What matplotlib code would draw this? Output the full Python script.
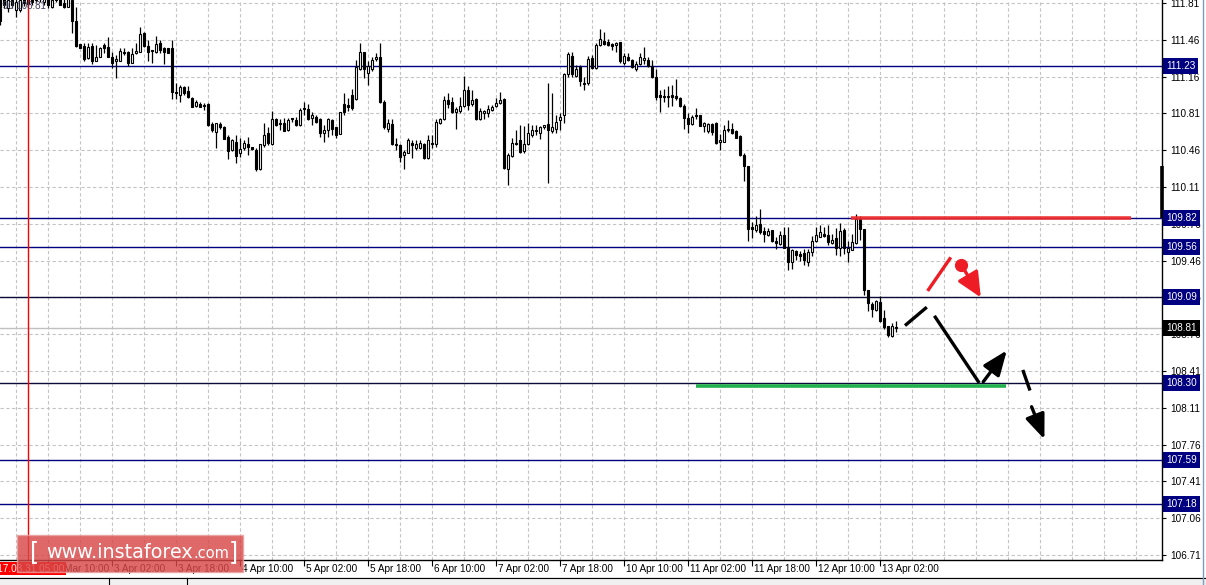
import matplotlib
matplotlib.use("Agg")
import matplotlib.pyplot as plt
import numpy as np
from matplotlib.patches import Rectangle, FancyArrowPatch
from matplotlib.lines import Line2D
from matplotlib.transforms import blended_transform_factory

# ---------------- data (USDJPY H1, bar 0 = 2017.03.31 10:00) ----------------
first_bar = -12

opens = [
    111.88, 111.88, 111.76, 111.84, 111.75, 111.75, 111.87, 111.80, 111.88, 111.84,
    111.89, 111.82, 111.87, 111.77, 111.84, 111.88, 111.81, 111.77, 111.84, 111.64,
    111.43, 111.41, 111.30, 111.41, 111.27, 111.31, 111.42, 111.40, 111.31, 111.27,
    111.27, 111.36, 111.36, 111.26, 111.35, 111.36, 111.53, 111.41, 111.38, 111.36,
    111.44, 111.39, 111.39, 111.39, 110.99, 110.96, 111.03, 111.00, 110.93, 110.86,
    110.88, 110.87, 110.88, 110.69, 110.62, 110.69, 110.66, 110.57, 110.45, 110.53,
    110.42, 110.47, 110.51, 110.48, 110.45, 110.28, 110.50, 110.61, 110.51, 110.74,
    110.70, 110.70, 110.64, 110.75, 110.73, 110.68, 110.84, 110.83, 110.75, 110.76,
    110.74, 110.61, 110.64, 110.73, 110.66, 110.60, 110.88, 110.87, 110.96, 110.92,
    111.20, 111.36, 111.16, 111.20, 111.29, 111.31, 110.90, 110.65, 110.69, 110.50,
    110.50, 110.41, 110.42, 110.52, 110.47, 110.47, 110.51, 110.38, 110.52, 110.51,
    110.70, 110.74, 110.91, 110.90, 110.80, 110.81, 110.86, 111.01, 110.88, 110.92,
    110.74, 110.79, 110.79, 110.82, 110.86, 110.89, 110.92, 110.28, 110.40, 110.52,
    110.54, 110.44, 110.51, 110.59, 110.64, 110.61, 110.66, 110.69, 110.63, 110.65,
    110.73, 110.78, 111.15, 111.32, 111.14, 111.22, 111.07, 111.07, 111.30, 111.21,
    111.42, 111.46, 111.45, 111.43, 111.42, 111.45, 111.26, 111.31, 111.28, 111.20,
    111.25, 111.28, 111.28, 111.23, 111.13, 110.96, 110.95, 110.95, 110.96, 110.95,
    110.93, 110.86, 110.75, 110.69, 110.78, 110.78, 110.67, 110.63, 110.69, 110.70,
    110.53, 110.53, 110.64, 110.65, 110.63, 110.58, 110.41, 110.30, 109.74, 109.71,
    109.77, 109.70, 109.67, 109.71, 109.61, 109.58, 109.67, 109.56, 109.42, 109.52,
    109.49, 109.50, 109.42, 109.51, 109.61, 109.65, 109.68, 109.67, 109.59, 109.64,
    109.55, 109.71, 109.51, 109.53, 109.59, 109.81, 109.72, 109.16, 109.03, 108.97,
    109.05, 108.90, 108.83, 108.73, 108.82,
]
highs = [
    111.93, 111.93, 111.88, 111.88, 111.86, 111.88, 111.91, 111.89, 111.93, 111.95,
    111.95, 111.93, 111.91, 111.88, 111.93, 111.91, 111.86, 111.88, 111.88, 111.77,
    111.43, 111.44, 111.44, 111.44, 111.42, 111.40, 111.44, 111.50, 111.36, 111.33,
    111.39, 111.39, 111.37, 111.39, 111.44, 111.59, 111.54, 111.47, 111.38, 111.51,
    111.47, 111.40, 111.39, 111.47, 111.07, 111.05, 111.04, 111.04, 110.94, 110.91,
    110.90, 110.89, 110.89, 110.71, 110.70, 110.71, 110.67, 110.59, 110.55, 110.59,
    110.56, 110.54, 110.57, 110.48, 110.47, 110.51, 110.70, 110.66, 110.81, 110.75,
    110.74, 110.75, 110.75, 110.75, 110.76, 110.84, 110.90, 110.88, 110.80, 110.78,
    110.75, 110.68, 110.75, 110.74, 110.66, 110.80, 110.98, 110.93, 111.02, 111.28,
    111.44, 111.36, 111.27, 111.31, 111.35, 111.44, 110.91, 110.74, 110.74, 110.56,
    110.51, 110.45, 110.56, 110.54, 110.54, 110.54, 110.52, 110.59, 110.59, 110.74,
    110.75, 110.95, 110.98, 110.94, 110.85, 110.94, 111.14, 111.04, 111.01, 110.93,
    110.84, 110.82, 110.87, 110.87, 110.93, 110.99, 110.93, 110.42, 110.56, 110.64,
    110.68, 110.67, 110.70, 110.68, 110.68, 110.67, 110.68, 111.07, 110.98, 110.78,
    110.79, 111.16, 111.36, 111.36, 111.24, 111.24, 111.13, 111.32, 111.33, 111.44,
    111.57, 111.54, 111.48, 111.44, 111.45, 111.45, 111.35, 111.35, 111.29, 111.27,
    111.35, 111.40, 111.31, 111.28, 111.20, 111.01, 111.02, 111.04, 111.05, 111.11,
    110.94, 110.88, 110.79, 110.78, 110.84, 110.78, 110.71, 110.70, 110.70, 110.71,
    110.60, 110.68, 110.73, 110.70, 110.64, 110.59, 110.42, 110.30, 109.79, 109.84,
    109.91, 109.74, 109.73, 109.71, 109.65, 109.70, 109.74, 109.74, 109.54, 109.53,
    109.52, 109.54, 109.54, 109.66, 109.74, 109.76, 109.74, 109.76, 109.68, 109.73,
    109.78, 109.73, 109.61, 109.68, 109.86, 109.84, 109.72, 109.16, 109.05, 109.07,
    109.10, 108.97, 108.83, 108.85, 108.87,
]
lows = [
    111.61, 111.76, 111.73, 111.76, 111.68, 111.73, 111.78, 111.78, 111.79, 111.82,
    111.82, 111.79, 111.76, 111.76, 111.82, 111.79, 111.76, 111.77, 111.53, 111.40,
    111.39, 111.27, 111.29, 111.25, 111.27, 111.31, 111.35, 111.31, 111.21, 111.12,
    111.27, 111.33, 111.23, 111.26, 111.34, 111.36, 111.40, 111.27, 111.26, 111.35,
    111.35, 111.25, 111.35, 110.92, 110.92, 110.90, 110.96, 110.93, 110.85, 110.85,
    110.85, 110.82, 110.67, 110.62, 110.47, 110.65, 110.55, 110.37, 110.44, 110.33,
    110.39, 110.45, 110.41, 110.45, 110.26, 110.27, 110.48, 110.50, 110.50, 110.67,
    110.64, 110.63, 110.63, 110.71, 110.67, 110.67, 110.78, 110.73, 110.68, 110.70,
    110.575, 110.53, 110.575, 110.59, 110.56, 110.60, 110.78, 110.81, 110.82, 110.91,
    111.19, 111.12, 111.05, 111.18, 111.27, 110.89, 110.65, 110.62, 110.50, 110.45,
    110.34, 110.28, 110.42, 110.38, 110.45, 110.46, 110.37, 110.37, 110.47, 110.48,
    110.69, 110.73, 110.84, 110.79, 110.65, 110.79, 110.85, 110.82, 110.86, 110.73,
    110.73, 110.74, 110.76, 110.81, 110.85, 110.88, 110.28, 110.13, 110.39, 110.50,
    110.42, 110.42, 110.50, 110.57, 110.59, 110.55, 110.65, 110.15, 110.61, 110.61,
    110.64, 110.70, 111.13, 111.13, 111.13, 111.04, 111.01, 111.05, 111.20, 111.20,
    111.41, 111.42, 111.41, 111.38, 111.36, 111.26, 111.24, 111.27, 111.21, 111.18,
    111.24, 111.25, 111.22, 111.12, 110.91, 110.80, 110.90, 110.85, 110.86, 110.91,
    110.85, 110.65, 110.61, 110.68, 110.74, 110.67, 110.62, 110.61, 110.59, 110.51,
    110.45, 110.53, 110.62, 110.60, 110.56, 110.40, 110.17, 109.61, 109.64, 109.69,
    109.68, 109.60, 109.66, 109.60, 109.54, 109.57, 109.56, 109.34, 109.35, 109.44,
    109.43, 109.39, 109.38, 109.47, 109.60, 109.65, 109.65, 109.57, 109.58, 109.48,
    109.47, 109.49, 109.42, 109.53, 109.58, 109.62, 109.11, 108.96, 108.91, 108.96,
    108.86, 108.80, 108.72, 108.72, 108.77,
]
closes = [
    111.64, 111.79, 111.84, 111.79, 111.82, 111.84, 111.81, 111.86, 111.82, 111.91,
    111.86, 111.88, 111.79, 111.84, 111.88, 111.79, 111.77, 111.86, 111.64, 111.41,
    111.39, 111.29, 111.40, 111.27, 111.31, 111.39, 111.39, 111.31, 111.26, 111.29,
    111.37, 111.35, 111.26, 111.34, 111.37, 111.52, 111.41, 111.36, 111.37, 111.43,
    111.38, 111.36, 111.35, 110.99, 110.98, 111.03, 110.98, 110.94, 110.85, 110.90,
    110.85, 110.86, 110.68, 110.64, 110.70, 110.66, 110.55, 110.44, 110.54, 110.40,
    110.46, 110.52, 110.48, 110.46, 110.28, 110.51, 110.59, 110.52, 110.74, 110.68,
    110.69, 110.63, 110.73, 110.74, 110.68, 110.82, 110.83, 110.74, 110.78, 110.71,
    110.61, 110.64, 110.74, 110.65, 110.59, 110.80, 110.80, 110.85, 110.84, 111.22,
    111.36, 111.20, 111.23, 111.28, 111.31, 110.90, 110.66, 110.70, 110.51, 110.50,
    110.39, 110.43, 110.54, 110.50, 110.51, 110.52, 110.38, 110.54, 110.51, 110.71,
    110.74, 110.91, 110.88, 110.80, 110.83, 110.86, 111.01, 110.87, 110.91, 110.74,
    110.81, 110.81, 110.83, 110.85, 110.89, 110.91, 110.29, 110.41, 110.52, 110.51,
    110.43, 110.51, 110.61, 110.64, 110.63, 110.66, 110.68, 110.64, 110.66, 110.71,
    110.76, 111.15, 111.34, 111.15, 111.20, 111.09, 111.06, 111.29, 111.21, 111.42,
    111.48, 111.43, 111.42, 111.41, 111.44, 111.27, 111.32, 111.28, 111.22, 111.25,
    111.31, 111.30, 111.23, 111.13, 110.94, 110.94, 110.94, 110.94, 110.94, 110.93,
    110.86, 110.75, 110.69, 110.76, 110.77, 110.67, 110.70, 110.69, 110.62, 110.52,
    110.54, 110.64, 110.65, 110.61, 110.56, 110.41, 110.30, 109.72, 109.72, 109.76,
    109.69, 109.68, 109.70, 109.61, 109.59, 109.67, 109.55, 109.42, 109.53, 109.48,
    109.47, 109.44, 109.51, 109.61, 109.67, 109.69, 109.66, 109.60, 109.62, 109.55,
    109.70, 109.55, 109.55, 109.60, 109.81, 109.72, 109.16, 109.04, 108.98, 109.06,
    108.87, 108.82, 108.74, 108.83, 108.81,
]

bid_price = 108.81
level_prices = [111.23, 109.82, 109.56, 109.09, 108.30, 107.59, 107.18]
level_colors = ["#000080", "#000080", "#000080", "#0b0b3a", "#0b0b3a", "#000080", "#000080"]

y_tick_labels = ["111.81", "111.46", "111.16", "110.81", "110.46", "110.11", "109.76", "109.46",
                 "109.06", "108.76", "108.41", "108.11", "107.76", "107.41", "107.06", "106.71"]
y_tick_top, y_tick_step = 111.81, 0.34

x_tick_labels = ["31 Mar 10:00", "3 Apr 02:00", "3 Apr 18:00", "4 Apr 10:00", "5 Apr 02:00",
                 "5 Apr 18:00", "6 Apr 10:00", "7 Apr 02:00", "7 Apr 18:00", "10 Apr 10:00",
                 "11 Apr 02:00", "11 Apr 18:00", "12 Apr 10:00", "13 Apr 02:00"]
x_tick_every = 16
crosshair_bar = -5
crosshair_label = "2017.03.31 05:00"

# analyst annotations (bar index, price)
resistance_line = ([200.75, 270.75], [109.82, 109.82])
support_line = ([162.0, 239.4], [108.27, 108.27])
black_segments = [((214.25, 108.83), (219.7, 109.00)), ((221.6, 108.92), (232.8, 108.30)),
                  ((243.7, 108.42), (245.5, 108.23))]
black_arrows = [((233.8, 108.31), (239.7, 108.60)), ((245.9, 108.08), (249.1, 107.78))]
red_segment = ((219.9, 109.15), (225.7, 109.46))
red_dot = (228.25, 109.39)
red_arrow = ((229.0, 109.35), (233.2, 109.09))
edge_bar = (109.82, 110.30)

# ---------------- figure ----------------
W, H = 1206, 585
fig = plt.figure(figsize=(W / 100, H / 100), dpi=100)
fig.patch.set_facecolor("white")
ax = fig.add_axes([0, 25 / H, 1162 / W, 560 / H])
ax.set_facecolor("white")
xmin, xmax = -12, 278.5
ax.set_xlim(xmin, xmax)
ax.set_ylim(106.664, 111.838)

grid_kw = dict(color="#c4c4c4", lw=0.8, ls=(0, (3, 2.2)), zorder=1)
for xb in range(-8, 279, 8):
    ax.axvline(xb, **grid_kw)
y_tick_pos = [y_tick_top - k * y_tick_step for k in range(len(y_tick_labels))]
for yv in y_tick_pos:
    ax.axhline(yv, **grid_kw)

# level lines
for lv, col in zip(level_prices, level_colors):
    ax.axhline(lv, color=col, lw=1.0, zorder=2)
ax.axhline(bid_price, color="#c0c0c0", lw=1.0, zorder=2)

# candles
o = np.array(opens); h = np.array(highs); l = np.array(lows); c = np.array(closes)
n = min(len(o), len(h), len(l), len(c))
o, h, l, c = o[:n], h[:n], l[:n], c[:n]
bars = np.arange(first_bar, first_bar + n)
lo_b = np.minimum(o, c); hi_b = np.maximum(o, c)
ht = np.maximum(hi_b - lo_b, 0.003)
up = c > o
ax.vlines(bars, np.minimum(l, lo_b), np.maximum(h, hi_b), color="black", lw=0.9, zorder=3)
ax.bar(bars[up], ht[up], bottom=lo_b[up], width=0.52, facecolor="white",
       edgecolor="black", linewidth=0.8, zorder=4)
ax.bar(bars[~up], ht[~up], bottom=lo_b[~up], width=0.52, facecolor="black",
       edgecolor="black", linewidth=0.8, zorder=4)

# crosshair
ax.axvline(crosshair_bar, color="#ff0000", lw=1.0, zorder=6)

# analyst drawings
ax.plot(*resistance_line, color="#f02a2a", lw=2.6, alpha=0.92, solid_capstyle="butt", zorder=7)
ax.plot(*support_line, color="#22b14c", lw=2.6, solid_capstyle="butt", zorder=7)
for (p0, p1) in black_segments:
    ax.plot([p0[0], p1[0]], [p0[1], p1[1]], color="black", lw=2.4, solid_capstyle="butt", zorder=8)
for (p0, p1) in black_arrows:
    ax.add_patch(FancyArrowPatch(p0, p1, arrowstyle="-|>,head_length=0.75,head_width=0.3",
                                 mutation_scale=20, color="black", lw=2.4, shrinkA=0, shrinkB=0,
                                 zorder=8))
ax.plot([red_segment[0][0], red_segment[1][0]], [red_segment[0][1], red_segment[1][1]],
        color="#ee1c24", lw=2.4, solid_capstyle="butt", zorder=8)
ax.plot([red_dot[0]], [red_dot[1]], "o", color="#ee1c24", ms=8.5, zorder=8)
ax.add_patch(FancyArrowPatch(red_arrow[0], red_arrow[1], arrowstyle="-|>,head_length=0.75,head_width=0.35",
                             mutation_scale=20, color="#ee1c24", lw=2.4, shrinkA=0, shrinkB=0, zorder=8))
ax.plot([xmax, xmax], list(edge_bar), color="black", lw=2.6, solid_capstyle="butt",
        clip_on=False, zorder=9)

# spines / axes
for s in ["left", "top"]:
    ax.spines[s].set_visible(False)
for s in ["right", "bottom"]:
    ax.spines[s].set_color("black")
    ax.spines[s].set_linewidth(1.0)

lab_font = dict(family="Liberation Sans", size=7.2)
ax.yaxis.tick_right()
ax.set_yticks(y_tick_pos)
ax.set_yticklabels(y_tick_labels, fontdict=lab_font)
ax.tick_params(axis="y", direction="out", length=3, width=0.8, pad=3, colors="black")

x_tick_pos = [k * x_tick_every for k in range(len(x_tick_labels))]
ax.set_xticks(x_tick_pos)
ax.set_xticklabels([])
ax.tick_params(axis="x", direction="out", length=4, width=0.8)
btrans = blended_transform_factory(ax.transData, ax.transAxes)
for xp, lab in zip(x_tick_pos, x_tick_labels):
    ax.text(xp + 0.6, -9 / 560, lab, transform=btrans, ha="left", va="center",
            fontdict=lab_font, clip_on=False)

# level label boxes on the price scale
rtrans = blended_transform_factory(ax.transAxes, ax.transData)
for lv in level_prices:
    ax.text(1.0 + 4 / 1162, lv, f"{lv:.2f}", transform=rtrans, ha="left", va="center",
            fontdict=lab_font, color="white", zorder=12, clip_on=False,
            bbox=dict(boxstyle="square,pad=0.3", fc="#000080", ec="none"))
ax.text(1.0 + 4 / 1162, bid_price, f"{bid_price:.2f}", transform=rtrans, ha="left", va="center",
        fontdict=lab_font, color="white", zorder=12, clip_on=False,
        bbox=dict(boxstyle="square,pad=0.3", fc="black", ec="none"))

# top-left OHLC remnant
fig.text(46 / W, 1 - 6 / H, "108.90 108.81", ha="right", va="center", fontsize=7,
         family="Liberation Sans", color="#404060", zorder=5)

# crosshair time label
fig.add_artist(Rectangle((0, 1 - 575 / H), 66 / W, 13 / H, transform=fig.transFigure,
                         fc="#ff0000", ec="none", zorder=15))
fig.text(64 / W, 1 - 568.5 / H, crosshair_label, ha="right", va="center", fontdict=lab_font,
         color="white", zorder=16)

# watermark
fig.add_artist(Rectangle((17 / W, 1 - 572 / H), 226 / W, 37 / H, transform=fig.transFigure,
                         fc="#d84848", alpha=0.82, ec="#eaa0a0", lw=1.0, zorder=20))
fig.text(30 / W, 1 - 552 / H, "[", ha="left", va="center", fontsize=17, color="white",
         family="DejaVu Sans", zorder=21)
fig.text(46 / W, 1 - 552 / H, "www.instaforex", ha="left", va="center", fontsize=13.8,
         color="white", family="DejaVu Sans", zorder=21)
fig.text(193 / W, 1 - 553 / H, ".com", ha="left", va="center", fontsize=10.5,
         color="white", family="DejaVu Sans", zorder=21)
fig.text(229 / W, 1 - 552 / H, "]", ha="left", va="center", fontsize=17, color="white",
         family="DejaVu Sans", zorder=21)

# bottom tab strip and right border
fig.add_artist(Rectangle((0, 0), 1, 8 / H, transform=fig.transFigure, fc="#f0f0f0", ec="none", zorder=1))
fig.add_artist(Line2D([0, 1], [1 - 578 / H, 1 - 578 / H], transform=fig.transFigure, color="black", lw=0.8, zorder=2))
for xx in [109, 187]:
    fig.add_artist(Line2D([xx / W, xx / W], [0, 1 - 578 / H], transform=fig.transFigure, color="black", lw=0.8, zorder=2))
fig.add_artist(Line2D([1203 / W, 1203 / W], [0, 1], transform=fig.transFigure, color="#7f9db9", lw=1.0, zorder=2))

fig.savefig("out.png", dpi=100)
